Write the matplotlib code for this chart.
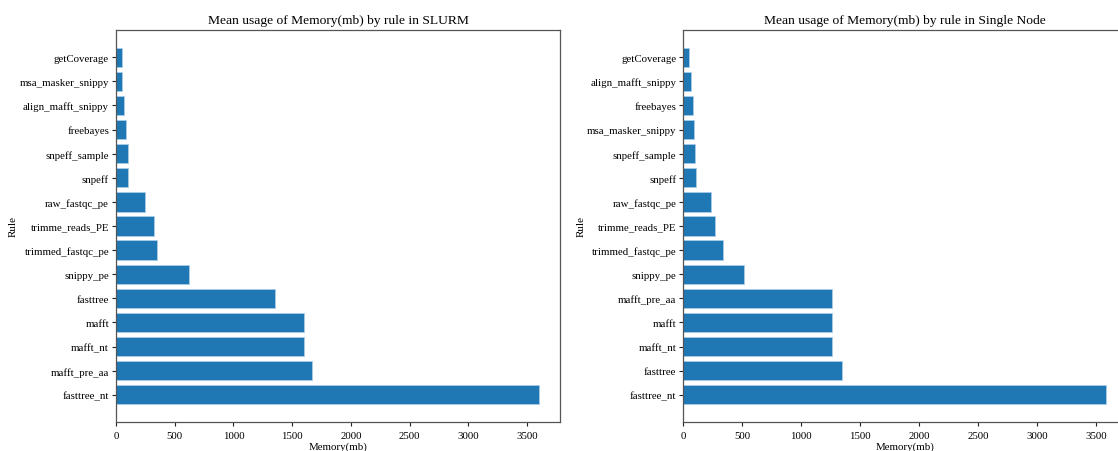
import matplotlib
matplotlib.use("Agg")
import matplotlib.pyplot as plt

plt.rcParams["font.family"] = ["Liberation Serif", "DejaVu Serif"]

# Mean memory per rule (MB), largest first so it sits at the bottom
slurm_rules = [
    "fasttree_nt", "mafft_pre_aa", "mafft_nt", "mafft", "fasttree",
    "snippy_pe", "trimmed_fastqc_pe", "trimme_reads_PE", "raw_fastqc_pe",
    "snpeff", "snpeff_sample", "freebayes", "align_mafft_snippy",
    "msa_masker_snippy", "getCoverage",
]
slurm_mem = [3600, 1665, 1603, 1603, 1352, 623, 353, 320, 243,
             105, 104, 82, 65, 54, 51]

single_rules = [
    "fasttree_nt", "fasttree", "mafft_nt", "mafft", "mafft_pre_aa",
    "snippy_pe", "trimmed_fastqc_pe", "trimme_reads_PE", "raw_fastqc_pe",
    "snpeff", "snpeff_sample", "msa_masker_snippy", "freebayes",
    "align_mafft_snippy", "getCoverage",
]
single_mem = [3585, 1346, 1258, 1258, 1258, 513, 335, 272, 232,
              105, 102, 88, 85, 68, 51]

W, H = 1118, 452
fig = plt.figure(figsize=(W / 100, H / 100), dpi=100)

bottom = (H - 423.3) / H
height = (423.3 - 30.7) / H
ax1 = fig.add_axes([116 / W, bottom, 444 / W, height])
ax2 = fig.add_axes([683.3 / W, bottom, 444 / W, height])


def draw(ax, rules, mem, where):
    ax.barh(rules, mem, color="#1f77b4", edgecolor="#a9cde8", linewidth=0.6)
    ax.set_title(f"Mean usage of Memory(mb) by rule in {where}", fontsize=9.7, pad=5)
    ax.set_xlabel("Memory(mb)", fontsize=7.8, labelpad=1)
    ax.set_ylabel("Rule", fontsize=8, labelpad=1)
    ax.tick_params(labelsize=7.8, length=3, width=0.8, colors="#222222",
                   labelcolor="black")
    ax.tick_params(axis="y", pad=2)
    ax.set_xticks([0, 500, 1000, 1500, 2000, 2500, 3000, 3500])
    for s in ax.spines.values():
        s.set_color("#555555")
        s.set_linewidth(0.9)


draw(ax1, slurm_rules, slurm_mem, "SLURM")
draw(ax2, single_rules, single_mem, "Single Node")

fig.savefig("out.png", dpi=100)
